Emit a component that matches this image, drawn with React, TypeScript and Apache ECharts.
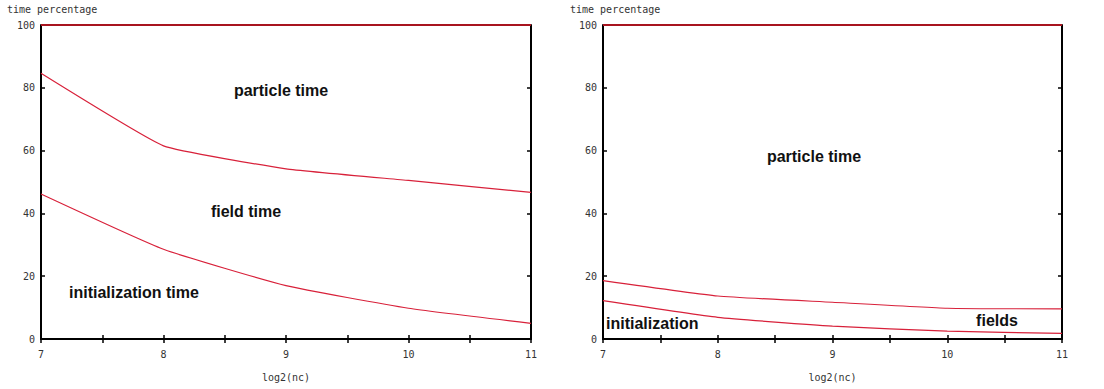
import React, { useEffect, useRef } from "react";
import * as echarts from "echarts";

const xValues = [7, 8, 9, 10, 11];
const leftTotal = [100, 100, 100, 100, 100];
const leftParticleField = [84.6, 61.5, 54.2, 50.5, 46.7];
const leftFieldInit = [46.2, 28.6, 17.0, 9.8, 5.0];
const rightTotal = [100, 100, 100, 100, 100];
const rightParticleField = [18.6, 13.7, 11.7, 9.8, 9.6];
const rightFieldInit = [12.2, 6.9, 4.1, 2.5, 1.8];
const yTicks = [0, 20, 40, 60, 80, 100];

const pairs = (ys: number[]) => xValues.map((x, i) => [x, ys[i]]);

const FONT = "DejaVu Sans Mono";
const LABEL_FONT = "Liberation Sans";

export default function App() {
  const ref = useRef<HTMLDivElement>(null);
  useEffect(() => {
    document.body.style.margin = "0";
    const chart = echarts.init(ref.current!, null, { renderer: "svg" });
    const axisLine = { show: true, lineStyle: { color: "#000", width: 2 } };
    const tick = { show: true, inside: true, length: 4, lineStyle: { color: "#000", width: 1.5 } };
    const minorTick = { show: true, splitNumber: 2, length: 4, lineStyle: { color: "#000", width: 1.5 } };
    const labelStyle = { fontFamily: FONT, fontSize: 10, color: "#333" };
    const xAxes: any[] = [];
    const yAxes: any[] = [];
    [0, 1].forEach((g) => {
      xAxes.push({
        type: "value", gridIndex: g, min: 7, max: 11, interval: 1, position: "bottom",
        axisLine, axisTick: tick, minorTick, splitLine: { show: false },
        axisLabel: { ...labelStyle, margin: 10 },
        name: "log2(nc)", nameLocation: "middle", nameGap: 33,
        nameTextStyle: { fontFamily: FONT, fontSize: 10, color: "#333" },
      });
      xAxes.push({
        type: "value", gridIndex: g, min: 7, max: 11, interval: 1, position: "top",
        axisLine, axisTick: tick, minorTick, splitLine: { show: false },
        axisLabel: { show: false },
      });
      yAxes.push({
        type: "value", gridIndex: g, min: 0, max: 100, interval: 20, position: "left",
        axisLine, axisTick: tick, splitLine: { show: false },
        axisLabel: { ...labelStyle, margin: 6, formatter: (v: number) => (yTicks.includes(v) ? String(v) : "") },
      });
      yAxes.push({
        type: "value", gridIndex: g, min: 0, max: 100, interval: 20, position: "right",
        axisLine, axisTick: tick, splitLine: { show: false },
        axisLabel: { show: false },
      });
    });
    const line = (name: string, g: number, ys: number[], color: string, width: number, smooth: any) => ({
      name, type: "line", xAxisIndex: g * 2, yAxisIndex: g * 2, data: pairs(ys),
      showSymbol: false, symbol: "none", smooth,
      lineStyle: { color, width }, z: 5,
    });
    const red = "#d8213a";
    chart.setOption({
      animation: false,
      backgroundColor: "#fff",
      grid: [
        { left: 41, right: 573, top: 25, bottom: 50 },
        { left: 603, right: 42, top: 25, bottom: 50 },
      ],
      xAxis: xAxes,
      yAxis: yAxes,
      series: [
        line("total", 0, leftTotal, "#a8141f", 2, false),
        line("particle/field", 0, leftParticleField, red, 1.2, 0.12),
        line("field/initialization", 0, leftFieldInit, red, 1.2, 0.15),
        line("total", 1, rightTotal, "#a8141f", 2, false),
        line("particle/fields", 1, rightParticleField, red, 1.2, 0.15),
        line("fields/initialization", 1, rightFieldInit, red, 1.2, 0.15),
      ],
      graphic: [
        { type: "text", left: 7, top: 4, style: { text: "time percentage", fontFamily: FONT, fontSize: 10, fill: "#333" } },
        { type: "text", left: 570, top: 4, style: { text: "time percentage", fontFamily: FONT, fontSize: 10, fill: "#333" } },
        { type: "text", x: 281, y: 90, style: { text: "particle time", fontFamily: LABEL_FONT, fontWeight: "bold", fontSize: 16, fill: "#111", align: "center", verticalAlign: "middle" } },
        { type: "text", x: 246, y: 211, style: { text: "field time", fontFamily: LABEL_FONT, fontWeight: "bold", fontSize: 16, fill: "#111", align: "center", verticalAlign: "middle" } },
        { type: "text", x: 69, y: 292, style: { text: "initialization time", fontFamily: LABEL_FONT, fontWeight: "bold", fontSize: 16, fill: "#111", align: "left", verticalAlign: "middle" } },
        { type: "text", x: 814, y: 156, style: { text: "particle time", fontFamily: LABEL_FONT, fontWeight: "bold", fontSize: 16, fill: "#111", align: "center", verticalAlign: "middle" } },
        { type: "text", x: 606, y: 323, style: { text: "initialization", fontFamily: LABEL_FONT, fontWeight: "bold", fontSize: 16, fill: "#111", align: "left", verticalAlign: "middle" } },
        { type: "text", x: 997, y: 320, style: { text: "fields", fontFamily: LABEL_FONT, fontWeight: "bold", fontSize: 16, fill: "#111", align: "center", verticalAlign: "middle" } },
      ],
    });
    return () => chart.dispose();
  }, []);
  return <div ref={ref} style={{ width: 1104, height: 389 }} />;
}
